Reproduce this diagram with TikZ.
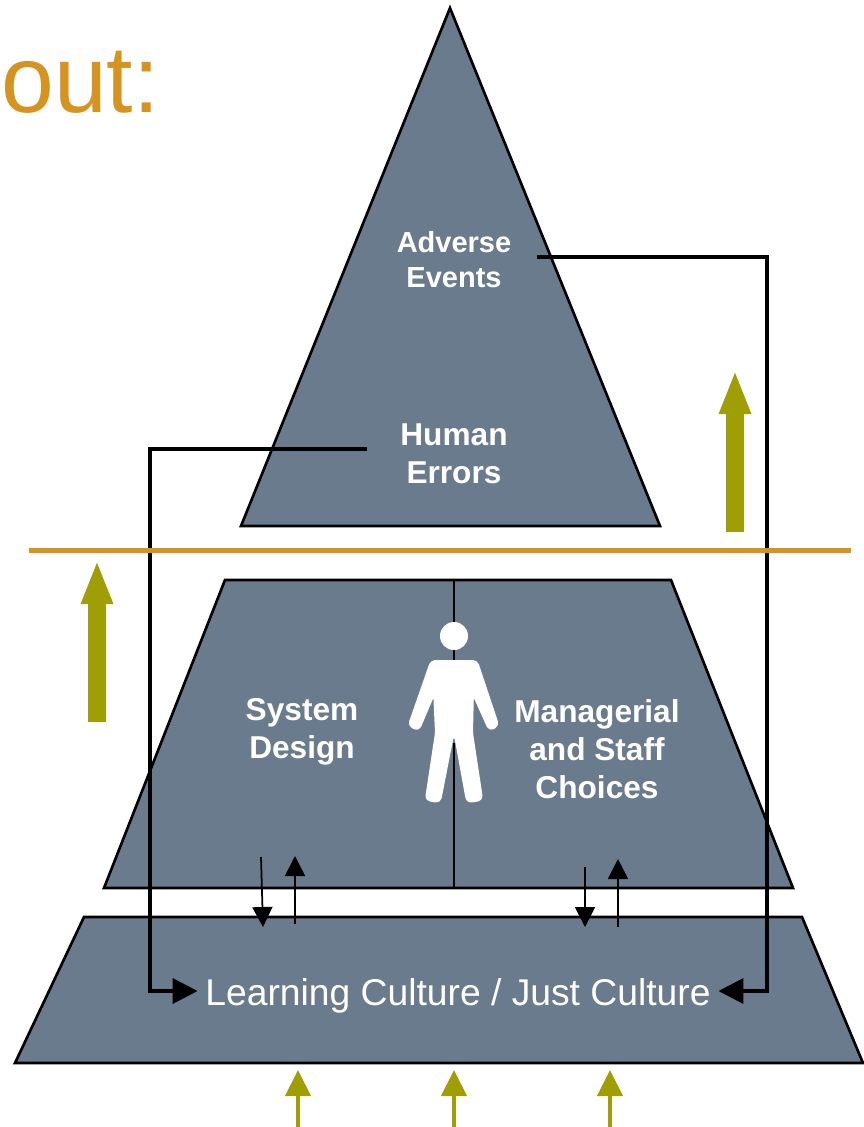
\documentclass[tikz,border=0pt]{standalone}
\usepackage{fontspec}
\setmainfont{Liberation Sans}
\usetikzlibrary{arrows.meta}
\definecolor{slate}{HTML}{6B7B8E}
\definecolor{olive}{HTML}{A09E05}
\definecolor{amber}{HTML}{D7931F}

\begin{document}
\begin{tikzpicture}
    [x=0.02cm, y=-0.02cm,
     block/.style={draw=black, line width=1.5pt, fill=slate, line join=miter},
     label/.style={text=white, font=\fontsize{18}{21.5}\selectfont\bfseries, align=center, inner sep=0pt},
     flow/.style={line width=2.1pt, -{Triangle[length=0.5cm, width=0.5cm]}},
     thin flow/.style={line width=1pt, -{Triangle[length=0.4cm, width=0.4cm]}},
     rise/.style={draw=olive, line width=0.36cm, -{Triangle[length=0.88cm, width=0.58cm, color=olive]}},
     small rise/.style={draw=olive, line width=2.4pt, -{Triangle[length=0.52cm, width=0.5cm, color=olive]}}]

    \useasboundingbox (0,0) rectangle (864,1127);

    \node[anchor=base west, text=amber, inner sep=0pt, font=\fontsize{54}{54}\selectfont] (title) at (1,112) {out:};

    % the three blocks
    \draw[block] (450,8) -- (660,526) -- (241,526) -- cycle;
    \draw[block] (225,580) -- (671,580) -- (793,888) -- (104,888) -- cycle;
    \draw[block] (84,917) -- (802,917) -- (863,1063) -- (15,1063) -- cycle;

    \node[label, font=\fontsize{16.5}{19.8}\selectfont\bfseries] (adverse) at (454,260) {Adverse\\Events};
    \node[label, inner xsep=0.66cm] (human) at (454,454) {Human\\Errors};
    \node[label] (system) at (302,732) {System\\Design};
    \node[label] (choices) at (597,749) {Managerial\\and Staff\\Choices};
    \node[text=white, inner xsep=0.15cm, inner ysep=0pt, font=\fontsize{21.2}{24}\selectfont] (culture) at (458,996) {Learning Culture / Just Culture};

    \coordinate (adverse out) at (537,257);
    \coordinate (right bend) at (767,991);
    \coordinate (left bend) at (150,991);
    \coordinate (human out) at (367,449);
    \coordinate (top mid) at (454,580);
    \coordinate (neck) at (454,661);
    \coordinate (crotch) at (454,743);
    \coordinate (bottom mid) at (454,888);
    \draw[line width=1.3pt] (top mid) -- (neck);
    \draw[line width=1.3pt] (crotch) -- (bottom mid);

    % the figure
    \node[circle, fill=white, inner sep=0pt, minimum size=0.56cm] (head) at (454,636) {};
    \filldraw[white, line width=0.08cm, line join=round, rounded corners=0.07cm]
      (432,662) -- (476,662) -- (497,725) -- (490,729) -- (472,689) -- (471,733)
      -- (481,799) -- (468,801) -- (456,735) -- (452,735) -- (439,801) -- (427,799)
      -- (437,733) -- (435,689) -- (418,729) -- (410,725) -- cycle;

    % connectors
    \draw[flow] (human.west |- human out) -| (left bend) -- (culture.west |- left bend);
    \draw[flow] (adverse out) -| (right bend) -- (culture.east |- right bend);

    \coordinate (a1) at (261,857); \coordinate (a2) at (263,927);
    \coordinate (b1) at (295,924); \coordinate (b2) at (295,856);
    \coordinate (c1) at (585,867); \coordinate (c2) at (585,927);
    \coordinate (d1) at (618,927); \coordinate (d2) at (618,859);
    \draw[thin flow] (a1) -- (a2);
    \draw[thin flow] (b1) -- (b2);
    \draw[thin flow] (c1) -- (c2);
    \draw[thin flow] (d1) -- (d2);

    \coordinate (rule left) at (29,550.5);
    \coordinate (rule right) at (851,550.5);
    \draw[amber, line width=2.9pt] (rule left) -- (rule right);

    \coordinate (r1) at (735,532); \coordinate (r2) at (735,370);
    \coordinate (l1) at (97,722); \coordinate (l2) at (97,560);
    \draw[rise] (r1) -- (r2);
    \draw[rise] (l1) -- (l2);

    \foreach \x in {298, 454, 610} {
      \coordinate (s1\x) at (\x,1127);
      \coordinate (s2\x) at (\x,1070);
      \draw[small rise] (s1\x) -- (s2\x);
    }
\end{tikzpicture}
\end{document}
